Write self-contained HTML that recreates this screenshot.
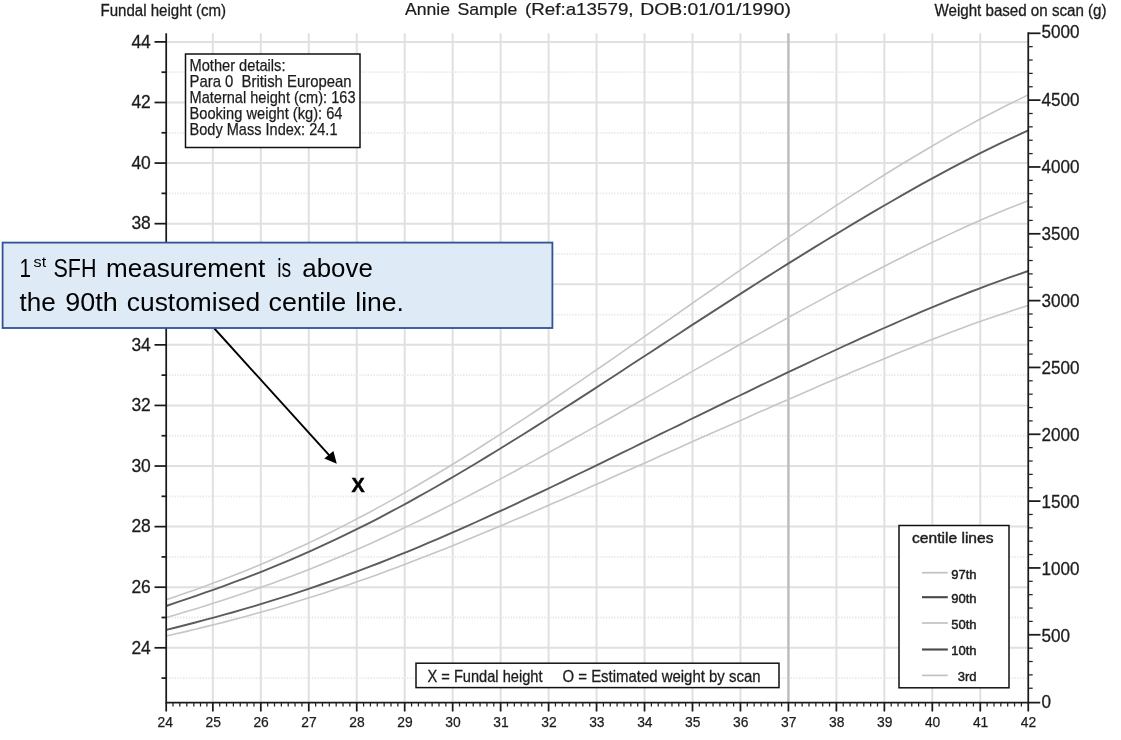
<!DOCTYPE html>
<html lang="en"><head><meta charset="utf-8"><title>Customised growth chart</title>
<style>html,body{margin:0;padding:0;background:#fff;}body{width:1121px;height:740px;overflow:hidden;font-family:"Liberation Sans",sans-serif;}svg{display:block;filter:blur(0.3px);}text{font-family:"Liberation Sans",sans-serif;}</style>
</head><body>
<svg width="1121" height="740" viewBox="0 0 1121 740">
<rect x="0" y="0" width="1121" height="740" fill="#ffffff"/>
<g stroke="#e0e0e0" stroke-width="2" fill="none">
<line x1="212.84" y1="33.20" x2="212.84" y2="702.50"/>
<line x1="260.81" y1="33.20" x2="260.81" y2="702.50"/>
<line x1="308.77" y1="33.20" x2="308.77" y2="702.50"/>
<line x1="356.74" y1="33.20" x2="356.74" y2="702.50"/>
<line x1="404.70" y1="33.20" x2="404.70" y2="702.50"/>
<line x1="452.67" y1="33.20" x2="452.67" y2="702.50"/>
<line x1="500.63" y1="33.20" x2="500.63" y2="702.50"/>
<line x1="548.60" y1="33.20" x2="548.60" y2="702.50"/>
<line x1="596.56" y1="33.20" x2="596.56" y2="702.50"/>
<line x1="644.53" y1="33.20" x2="644.53" y2="702.50"/>
<line x1="692.50" y1="33.20" x2="692.50" y2="702.50"/>
<line x1="740.46" y1="33.20" x2="740.46" y2="702.50"/>
<line x1="836.39" y1="33.20" x2="836.39" y2="702.50"/>
<line x1="884.36" y1="33.20" x2="884.36" y2="702.50"/>
<line x1="932.32" y1="33.20" x2="932.32" y2="702.50"/>
<line x1="980.28" y1="33.20" x2="980.28" y2="702.50"/>
<line x1="166.20" y1="647.80" x2="1028.25" y2="647.80"/>
<line x1="166.20" y1="587.21" x2="1028.25" y2="587.21"/>
<line x1="166.20" y1="526.62" x2="1028.25" y2="526.62"/>
<line x1="166.20" y1="466.03" x2="1028.25" y2="466.03"/>
<line x1="166.20" y1="405.44" x2="1028.25" y2="405.44"/>
<line x1="166.20" y1="344.85" x2="1028.25" y2="344.85"/>
<line x1="166.20" y1="284.26" x2="1028.25" y2="284.26"/>
<line x1="166.20" y1="223.67" x2="1028.25" y2="223.67"/>
<line x1="166.20" y1="163.08" x2="1028.25" y2="163.08"/>
<line x1="166.20" y1="102.49" x2="1028.25" y2="102.49"/>
<line x1="166.20" y1="41.90" x2="1028.25" y2="41.90"/>
</g>
<g stroke="#e8e8e8" stroke-width="1.8" stroke-dasharray="1.4 1.4" fill="none">
<line x1="166.20" y1="678.09" x2="1028.25" y2="678.09"/>
<line x1="166.20" y1="617.50" x2="1028.25" y2="617.50"/>
<line x1="166.20" y1="556.91" x2="1028.25" y2="556.91"/>
<line x1="166.20" y1="496.32" x2="1028.25" y2="496.32"/>
<line x1="166.20" y1="435.73" x2="1028.25" y2="435.73"/>
<line x1="166.20" y1="375.14" x2="1028.25" y2="375.14"/>
<line x1="166.20" y1="314.55" x2="1028.25" y2="314.55"/>
<line x1="166.20" y1="253.96" x2="1028.25" y2="253.96"/>
<line x1="166.20" y1="193.38" x2="1028.25" y2="193.38"/>
<line x1="166.20" y1="132.78" x2="1028.25" y2="132.78"/>
<line x1="166.20" y1="72.19" x2="1028.25" y2="72.19"/>
</g>
<line x1="788.42" y1="33.20" x2="788.42" y2="702.50" stroke="#bbbbbb" stroke-width="2.4"/>
<path d="M166.2 599.7 L175.9 596.4 L185.6 593.1 L195.3 589.7 L204.9 586.2 L214.6 582.6 L224.3 578.9 L234.0 575.2 L243.7 571.4 L253.4 567.4 L263.1 563.4 L272.7 559.2 L282.4 555.0 L292.1 550.6 L301.8 546.2 L311.5 541.6 L321.2 537.0 L330.9 532.2 L340.5 527.4 L350.2 522.4 L359.9 517.3 L369.6 512.2 L379.3 506.9 L389.0 501.6 L398.7 496.1 L408.3 490.6 L418.0 485.0 L427.7 479.3 L437.4 473.5 L447.1 467.7 L456.8 461.7 L466.5 455.7 L476.2 449.7 L485.8 443.5 L495.5 437.3 L505.2 431.1 L514.9 424.7 L524.6 418.4 L534.3 412.0 L544.0 405.5 L553.6 399.0 L563.3 392.5 L573.0 385.9 L582.7 379.3 L592.4 372.6 L602.1 366.0 L611.8 359.3 L621.4 352.6 L631.1 345.9 L640.8 339.2 L650.5 332.4 L660.2 325.7 L669.9 318.9 L679.6 312.2 L689.2 305.5 L698.9 298.7 L708.6 292.0 L718.3 285.3 L728.0 278.6 L737.7 271.9 L747.4 265.2 L757.0 258.6 L766.7 252.0 L776.4 245.4 L786.1 238.9 L795.8 232.4 L805.5 225.9 L815.2 219.4 L824.8 213.1 L834.5 206.7 L844.2 200.4 L853.9 194.2 L863.6 188.0 L873.3 181.8 L883.0 175.8 L892.6 169.8 L902.3 163.8 L912.0 158.0 L921.7 152.2 L931.4 146.5 L941.1 140.9 L950.8 135.3 L960.4 129.9 L970.1 124.6 L979.8 119.3 L989.5 114.2 L999.2 109.2 L1008.9 104.3 L1018.6 99.6 L1028.2 94.9" fill="none" stroke="#c6c6c6" stroke-width="1.6" stroke-linejoin="round"/>
<path d="M166.2 606.0 L175.9 602.7 L185.6 599.4 L195.3 596.1 L204.9 592.7 L214.6 589.3 L224.3 585.8 L234.0 582.2 L243.7 578.6 L253.4 574.9 L263.1 571.1 L272.7 567.2 L282.4 563.2 L292.1 559.1 L301.8 554.9 L311.5 550.6 L321.2 546.2 L330.9 541.7 L340.5 537.1 L350.2 532.4 L359.9 527.6 L369.6 522.8 L379.3 517.8 L389.0 512.7 L398.7 507.5 L408.3 502.3 L418.0 496.9 L427.7 491.5 L437.4 486.0 L447.1 480.4 L456.8 474.8 L466.5 469.0 L476.2 463.3 L485.8 457.4 L495.5 451.5 L505.2 445.5 L514.9 439.5 L524.6 433.5 L534.3 427.4 L544.0 421.2 L553.6 415.0 L563.3 408.8 L573.0 402.6 L582.7 396.4 L592.4 390.1 L602.1 383.8 L611.8 377.5 L621.4 371.2 L631.1 364.8 L640.8 358.5 L650.5 352.2 L660.2 345.9 L669.9 339.5 L679.6 333.2 L689.2 326.9 L698.9 320.6 L708.6 314.4 L718.3 308.1 L728.0 301.9 L737.7 295.6 L747.4 289.4 L757.0 283.3 L766.7 277.1 L776.4 271.0 L786.1 264.9 L795.8 258.9 L805.5 252.9 L815.2 246.9 L824.8 241.0 L834.5 235.1 L844.2 229.2 L853.9 223.4 L863.6 217.6 L873.3 211.9 L883.0 206.3 L892.6 200.7 L902.3 195.1 L912.0 189.7 L921.7 184.2 L931.4 178.9 L941.1 173.6 L950.8 168.4 L960.4 163.3 L970.1 158.3 L979.8 153.4 L989.5 148.6 L999.2 143.8 L1008.9 139.3 L1018.6 134.8 L1028.2 130.4" fill="none" stroke="#5c5c5c" stroke-width="1.9" stroke-linejoin="round"/>
<path d="M166.2 617.6 L175.9 614.7 L185.6 611.8 L195.3 608.9 L204.9 605.9 L214.6 602.8 L224.3 599.7 L234.0 596.5 L243.7 593.3 L253.4 590.0 L263.1 586.6 L272.7 583.2 L282.4 579.6 L292.1 576.0 L301.8 572.3 L311.5 568.5 L321.2 564.6 L330.9 560.6 L340.5 556.6 L350.2 552.4 L359.9 548.2 L369.6 543.9 L379.3 539.5 L389.0 535.1 L398.7 530.5 L408.3 525.9 L418.0 521.3 L427.7 516.5 L437.4 511.7 L447.1 506.8 L456.8 501.9 L466.5 496.9 L476.2 491.8 L485.8 486.7 L495.5 481.6 L505.2 476.4 L514.9 471.2 L524.6 465.9 L534.3 460.6 L544.0 455.2 L553.6 449.9 L563.3 444.5 L573.0 439.0 L582.7 433.6 L592.4 428.1 L602.1 422.7 L611.8 417.2 L621.4 411.7 L631.1 406.2 L640.8 400.7 L650.5 395.1 L660.2 389.6 L669.9 384.1 L679.6 378.6 L689.2 373.1 L698.9 367.6 L708.6 362.1 L718.3 356.6 L728.0 351.2 L737.7 345.7 L747.4 340.3 L757.0 334.9 L766.7 329.5 L776.4 324.1 L786.1 318.7 L795.8 313.4 L805.5 308.1 L815.2 302.9 L824.8 297.6 L834.5 292.4 L844.2 287.3 L853.9 282.1 L863.6 277.0 L873.3 272.0 L883.0 267.0 L892.6 262.0 L902.3 257.2 L912.0 252.3 L921.7 247.5 L931.4 242.8 L941.1 238.2 L950.8 233.6 L960.4 229.2 L970.1 224.8 L979.8 220.5 L989.5 216.3 L999.2 212.2 L1008.9 208.2 L1018.6 204.4 L1028.2 200.7" fill="none" stroke="#c6c6c6" stroke-width="1.6" stroke-linejoin="round"/>
<path d="M166.2 629.9 L175.9 627.5 L185.6 625.0 L195.3 622.5 L204.9 619.9 L214.6 617.3 L224.3 614.7 L234.0 612.0 L243.7 609.2 L253.4 606.3 L263.1 603.4 L272.7 600.4 L282.4 597.4 L292.1 594.3 L301.8 591.1 L311.5 587.8 L321.2 584.5 L330.9 581.1 L340.5 577.6 L350.2 574.0 L359.9 570.4 L369.6 566.7 L379.3 563.0 L389.0 559.1 L398.7 555.2 L408.3 551.3 L418.0 547.3 L427.7 543.2 L437.4 539.1 L447.1 534.9 L456.8 530.6 L466.5 526.3 L476.2 522.0 L485.8 517.6 L495.5 513.2 L505.2 508.8 L514.9 504.3 L524.6 499.7 L534.3 495.2 L544.0 490.6 L553.6 486.0 L563.3 481.4 L573.0 476.7 L582.7 472.0 L592.4 467.3 L602.1 462.6 L611.8 457.9 L621.4 453.2 L631.1 448.5 L640.8 443.7 L650.5 439.0 L660.2 434.2 L669.9 429.5 L679.6 424.8 L689.2 420.0 L698.9 415.3 L708.6 410.6 L718.3 405.9 L728.0 401.1 L737.7 396.5 L747.4 391.8 L757.0 387.1 L766.7 382.5 L776.4 377.8 L786.1 373.2 L795.8 368.6 L805.5 364.1 L815.2 359.5 L824.8 355.0 L834.5 350.5 L844.2 346.0 L853.9 341.6 L863.6 337.2 L873.3 332.9 L883.0 328.5 L892.6 324.3 L902.3 320.0 L912.0 315.9 L921.7 311.7 L931.4 307.6 L941.1 303.6 L950.8 299.7 L960.4 295.8 L970.1 292.0 L979.8 288.3 L989.5 284.6 L999.2 281.1 L1008.9 277.6 L1018.6 274.3 L1028.2 271.0" fill="none" stroke="#5c5c5c" stroke-width="1.9" stroke-linejoin="round"/>
<path d="M166.2 636.0 L175.9 633.8 L185.6 631.6 L195.3 629.3 L204.9 626.9 L214.6 624.5 L224.3 622.1 L234.0 619.6 L243.7 617.0 L253.4 614.3 L263.1 611.6 L272.7 608.9 L282.4 606.0 L292.1 603.1 L301.8 600.1 L311.5 597.1 L321.2 593.9 L330.9 590.8 L340.5 587.5 L350.2 584.2 L359.9 580.8 L369.6 577.4 L379.3 573.9 L389.0 570.3 L398.7 566.7 L408.3 563.1 L418.0 559.3 L427.7 555.6 L437.4 551.8 L447.1 547.9 L456.8 544.0 L466.5 540.1 L476.2 536.1 L485.8 532.1 L495.5 528.0 L505.2 523.9 L514.9 519.8 L524.6 515.7 L534.3 511.5 L544.0 507.3 L553.6 503.1 L563.3 498.9 L573.0 494.7 L582.7 490.4 L592.4 486.1 L602.1 481.9 L611.8 477.6 L621.4 473.3 L631.1 469.0 L640.8 464.7 L650.5 460.4 L660.2 456.1 L669.9 451.7 L679.6 447.4 L689.2 443.1 L698.9 438.8 L708.6 434.5 L718.3 430.2 L728.0 425.9 L737.7 421.7 L747.4 417.4 L757.0 413.1 L766.7 408.9 L776.4 404.6 L786.1 400.4 L795.8 396.2 L805.5 392.0 L815.2 387.8 L824.8 383.6 L834.5 379.5 L844.2 375.4 L853.9 371.3 L863.6 367.2 L873.3 363.2 L883.0 359.2 L892.6 355.2 L902.3 351.3 L912.0 347.4 L921.7 343.5 L931.4 339.7 L941.1 336.0 L950.8 332.3 L960.4 328.7 L970.1 325.1 L979.8 321.6 L989.5 318.2 L999.2 314.9 L1008.9 311.7 L1018.6 308.6 L1028.2 305.6" fill="none" stroke="#c6c6c6" stroke-width="1.6" stroke-linejoin="round"/>
<g stroke="#1a1a1a" stroke-width="1.75" fill="none">
<line x1="166.20" y1="33.20" x2="166.20" y2="703.50"/>
<line x1="1028.25" y1="32.30" x2="1028.25" y2="703.50"/>
<line x1="166.20" y1="702.50" x2="1040.25" y2="702.50"/>
<line x1="154.50" y1="647.80" x2="166.20" y2="647.80"/>
<line x1="154.50" y1="587.21" x2="166.20" y2="587.21"/>
<line x1="154.50" y1="526.62" x2="166.20" y2="526.62"/>
<line x1="154.50" y1="466.03" x2="166.20" y2="466.03"/>
<line x1="154.50" y1="405.44" x2="166.20" y2="405.44"/>
<line x1="154.50" y1="344.85" x2="166.20" y2="344.85"/>
<line x1="154.50" y1="284.26" x2="166.20" y2="284.26"/>
<line x1="154.50" y1="223.67" x2="166.20" y2="223.67"/>
<line x1="154.50" y1="163.08" x2="166.20" y2="163.08"/>
<line x1="154.50" y1="102.49" x2="166.20" y2="102.49"/>
<line x1="154.50" y1="41.90" x2="166.20" y2="41.90"/>
<line x1="161.50" y1="678.09" x2="166.20" y2="678.09"/>
<line x1="161.50" y1="617.50" x2="166.20" y2="617.50"/>
<line x1="161.50" y1="556.91" x2="166.20" y2="556.91"/>
<line x1="161.50" y1="496.32" x2="166.20" y2="496.32"/>
<line x1="161.50" y1="435.73" x2="166.20" y2="435.73"/>
<line x1="161.50" y1="375.14" x2="166.20" y2="375.14"/>
<line x1="161.50" y1="314.55" x2="166.20" y2="314.55"/>
<line x1="161.50" y1="253.96" x2="166.20" y2="253.96"/>
<line x1="161.50" y1="193.38" x2="166.20" y2="193.38"/>
<line x1="161.50" y1="132.78" x2="166.20" y2="132.78"/>
<line x1="161.50" y1="72.19" x2="166.20" y2="72.19"/>
<line x1="166.20" y1="702.50" x2="166.20" y2="711.50"/>
<line x1="212.84" y1="702.50" x2="212.84" y2="711.50"/>
<line x1="260.81" y1="702.50" x2="260.81" y2="711.50"/>
<line x1="308.77" y1="702.50" x2="308.77" y2="711.50"/>
<line x1="356.74" y1="702.50" x2="356.74" y2="711.50"/>
<line x1="404.70" y1="702.50" x2="404.70" y2="711.50"/>
<line x1="452.67" y1="702.50" x2="452.67" y2="711.50"/>
<line x1="500.63" y1="702.50" x2="500.63" y2="711.50"/>
<line x1="548.60" y1="702.50" x2="548.60" y2="711.50"/>
<line x1="596.56" y1="702.50" x2="596.56" y2="711.50"/>
<line x1="644.53" y1="702.50" x2="644.53" y2="711.50"/>
<line x1="692.50" y1="702.50" x2="692.50" y2="711.50"/>
<line x1="740.46" y1="702.50" x2="740.46" y2="711.50"/>
<line x1="788.42" y1="702.50" x2="788.42" y2="711.50"/>
<line x1="836.39" y1="702.50" x2="836.39" y2="711.50"/>
<line x1="884.36" y1="702.50" x2="884.36" y2="711.50"/>
<line x1="932.32" y1="702.50" x2="932.32" y2="711.50"/>
<line x1="980.28" y1="702.50" x2="980.28" y2="711.50"/>
<line x1="1028.25" y1="702.50" x2="1028.25" y2="711.50"/>
</g>
<g stroke="#222" stroke-width="1.25" fill="none">
<line x1="173.00" y1="702.50" x2="173.00" y2="706.50"/>
<line x1="179.80" y1="702.50" x2="179.80" y2="706.50"/>
<line x1="186.80" y1="702.50" x2="186.80" y2="706.50"/>
<line x1="193.80" y1="702.50" x2="193.80" y2="706.50"/>
<line x1="200.50" y1="702.50" x2="200.50" y2="706.50"/>
<line x1="206.90" y1="702.50" x2="206.90" y2="706.50"/>
<line x1="219.70" y1="702.50" x2="219.70" y2="706.50"/>
<line x1="226.55" y1="702.50" x2="226.55" y2="706.50"/>
<line x1="233.40" y1="702.50" x2="233.40" y2="706.50"/>
<line x1="240.25" y1="702.50" x2="240.25" y2="706.50"/>
<line x1="247.11" y1="702.50" x2="247.11" y2="706.50"/>
<line x1="253.96" y1="702.50" x2="253.96" y2="706.50"/>
<line x1="267.66" y1="702.50" x2="267.66" y2="706.50"/>
<line x1="274.51" y1="702.50" x2="274.51" y2="706.50"/>
<line x1="281.37" y1="702.50" x2="281.37" y2="706.50"/>
<line x1="288.22" y1="702.50" x2="288.22" y2="706.50"/>
<line x1="295.07" y1="702.50" x2="295.07" y2="706.50"/>
<line x1="301.92" y1="702.50" x2="301.92" y2="706.50"/>
<line x1="315.63" y1="702.50" x2="315.63" y2="706.50"/>
<line x1="322.48" y1="702.50" x2="322.48" y2="706.50"/>
<line x1="329.33" y1="702.50" x2="329.33" y2="706.50"/>
<line x1="336.18" y1="702.50" x2="336.18" y2="706.50"/>
<line x1="343.04" y1="702.50" x2="343.04" y2="706.50"/>
<line x1="349.89" y1="702.50" x2="349.89" y2="706.50"/>
<line x1="363.59" y1="702.50" x2="363.59" y2="706.50"/>
<line x1="370.44" y1="702.50" x2="370.44" y2="706.50"/>
<line x1="377.30" y1="702.50" x2="377.30" y2="706.50"/>
<line x1="384.15" y1="702.50" x2="384.15" y2="706.50"/>
<line x1="391.00" y1="702.50" x2="391.00" y2="706.50"/>
<line x1="397.85" y1="702.50" x2="397.85" y2="706.50"/>
<line x1="411.56" y1="702.50" x2="411.56" y2="706.50"/>
<line x1="418.41" y1="702.50" x2="418.41" y2="706.50"/>
<line x1="425.26" y1="702.50" x2="425.26" y2="706.50"/>
<line x1="432.11" y1="702.50" x2="432.11" y2="706.50"/>
<line x1="438.97" y1="702.50" x2="438.97" y2="706.50"/>
<line x1="445.82" y1="702.50" x2="445.82" y2="706.50"/>
<line x1="459.52" y1="702.50" x2="459.52" y2="706.50"/>
<line x1="466.37" y1="702.50" x2="466.37" y2="706.50"/>
<line x1="473.23" y1="702.50" x2="473.23" y2="706.50"/>
<line x1="480.08" y1="702.50" x2="480.08" y2="706.50"/>
<line x1="486.93" y1="702.50" x2="486.93" y2="706.50"/>
<line x1="493.78" y1="702.50" x2="493.78" y2="706.50"/>
<line x1="507.49" y1="702.50" x2="507.49" y2="706.50"/>
<line x1="514.34" y1="702.50" x2="514.34" y2="706.50"/>
<line x1="521.19" y1="702.50" x2="521.19" y2="706.50"/>
<line x1="528.04" y1="702.50" x2="528.04" y2="706.50"/>
<line x1="534.90" y1="702.50" x2="534.90" y2="706.50"/>
<line x1="541.75" y1="702.50" x2="541.75" y2="706.50"/>
<line x1="555.45" y1="702.50" x2="555.45" y2="706.50"/>
<line x1="562.30" y1="702.50" x2="562.30" y2="706.50"/>
<line x1="569.16" y1="702.50" x2="569.16" y2="706.50"/>
<line x1="576.01" y1="702.50" x2="576.01" y2="706.50"/>
<line x1="582.86" y1="702.50" x2="582.86" y2="706.50"/>
<line x1="589.71" y1="702.50" x2="589.71" y2="706.50"/>
<line x1="603.42" y1="702.50" x2="603.42" y2="706.50"/>
<line x1="610.27" y1="702.50" x2="610.27" y2="706.50"/>
<line x1="617.12" y1="702.50" x2="617.12" y2="706.50"/>
<line x1="623.97" y1="702.50" x2="623.97" y2="706.50"/>
<line x1="630.83" y1="702.50" x2="630.83" y2="706.50"/>
<line x1="637.68" y1="702.50" x2="637.68" y2="706.50"/>
<line x1="651.38" y1="702.50" x2="651.38" y2="706.50"/>
<line x1="658.23" y1="702.50" x2="658.23" y2="706.50"/>
<line x1="665.09" y1="702.50" x2="665.09" y2="706.50"/>
<line x1="671.94" y1="702.50" x2="671.94" y2="706.50"/>
<line x1="678.79" y1="702.50" x2="678.79" y2="706.50"/>
<line x1="685.64" y1="702.50" x2="685.64" y2="706.50"/>
<line x1="699.35" y1="702.50" x2="699.35" y2="706.50"/>
<line x1="706.20" y1="702.50" x2="706.20" y2="706.50"/>
<line x1="713.05" y1="702.50" x2="713.05" y2="706.50"/>
<line x1="719.90" y1="702.50" x2="719.90" y2="706.50"/>
<line x1="726.76" y1="702.50" x2="726.76" y2="706.50"/>
<line x1="733.61" y1="702.50" x2="733.61" y2="706.50"/>
<line x1="747.31" y1="702.50" x2="747.31" y2="706.50"/>
<line x1="754.16" y1="702.50" x2="754.16" y2="706.50"/>
<line x1="761.02" y1="702.50" x2="761.02" y2="706.50"/>
<line x1="767.87" y1="702.50" x2="767.87" y2="706.50"/>
<line x1="774.72" y1="702.50" x2="774.72" y2="706.50"/>
<line x1="781.57" y1="702.50" x2="781.57" y2="706.50"/>
<line x1="795.28" y1="702.50" x2="795.28" y2="706.50"/>
<line x1="802.13" y1="702.50" x2="802.13" y2="706.50"/>
<line x1="808.98" y1="702.50" x2="808.98" y2="706.50"/>
<line x1="815.83" y1="702.50" x2="815.83" y2="706.50"/>
<line x1="822.69" y1="702.50" x2="822.69" y2="706.50"/>
<line x1="829.54" y1="702.50" x2="829.54" y2="706.50"/>
<line x1="843.24" y1="702.50" x2="843.24" y2="706.50"/>
<line x1="850.09" y1="702.50" x2="850.09" y2="706.50"/>
<line x1="856.95" y1="702.50" x2="856.95" y2="706.50"/>
<line x1="863.80" y1="702.50" x2="863.80" y2="706.50"/>
<line x1="870.65" y1="702.50" x2="870.65" y2="706.50"/>
<line x1="877.50" y1="702.50" x2="877.50" y2="706.50"/>
<line x1="891.21" y1="702.50" x2="891.21" y2="706.50"/>
<line x1="898.06" y1="702.50" x2="898.06" y2="706.50"/>
<line x1="904.91" y1="702.50" x2="904.91" y2="706.50"/>
<line x1="911.76" y1="702.50" x2="911.76" y2="706.50"/>
<line x1="918.62" y1="702.50" x2="918.62" y2="706.50"/>
<line x1="925.47" y1="702.50" x2="925.47" y2="706.50"/>
<line x1="939.17" y1="702.50" x2="939.17" y2="706.50"/>
<line x1="946.02" y1="702.50" x2="946.02" y2="706.50"/>
<line x1="952.88" y1="702.50" x2="952.88" y2="706.50"/>
<line x1="959.73" y1="702.50" x2="959.73" y2="706.50"/>
<line x1="966.58" y1="702.50" x2="966.58" y2="706.50"/>
<line x1="973.43" y1="702.50" x2="973.43" y2="706.50"/>
<line x1="987.14" y1="702.50" x2="987.14" y2="706.50"/>
<line x1="993.99" y1="702.50" x2="993.99" y2="706.50"/>
<line x1="1000.84" y1="702.50" x2="1000.84" y2="706.50"/>
<line x1="1007.69" y1="702.50" x2="1007.69" y2="706.50"/>
<line x1="1014.55" y1="702.50" x2="1014.55" y2="706.50"/>
<line x1="1021.40" y1="702.50" x2="1021.40" y2="706.50"/>
</g>
<g stroke="#1a1a1a" stroke-width="1.75" fill="none">
<line x1="1028.25" y1="634.77" x2="1040.50" y2="634.77"/>
<line x1="1028.25" y1="567.94" x2="1040.50" y2="567.94"/>
<line x1="1028.25" y1="501.11" x2="1040.50" y2="501.11"/>
<line x1="1028.25" y1="434.28" x2="1040.50" y2="434.28"/>
<line x1="1028.25" y1="367.45" x2="1040.50" y2="367.45"/>
<line x1="1028.25" y1="300.62" x2="1040.50" y2="300.62"/>
<line x1="1028.25" y1="233.79" x2="1040.50" y2="233.79"/>
<line x1="1028.25" y1="166.96" x2="1040.50" y2="166.96"/>
<line x1="1028.25" y1="100.13" x2="1040.50" y2="100.13"/>
<line x1="1028.25" y1="33.30" x2="1040.50" y2="33.30"/>
</g>
<g stroke="#222" stroke-width="1.25" fill="none">
<line x1="1028.25" y1="688.23" x2="1032.70" y2="688.23"/>
<line x1="1028.25" y1="674.87" x2="1032.70" y2="674.87"/>
<line x1="1028.25" y1="661.50" x2="1032.70" y2="661.50"/>
<line x1="1028.25" y1="648.14" x2="1032.70" y2="648.14"/>
<line x1="1028.25" y1="621.40" x2="1032.70" y2="621.40"/>
<line x1="1028.25" y1="608.04" x2="1032.70" y2="608.04"/>
<line x1="1028.25" y1="594.67" x2="1032.70" y2="594.67"/>
<line x1="1028.25" y1="581.31" x2="1032.70" y2="581.31"/>
<line x1="1028.25" y1="554.57" x2="1032.70" y2="554.57"/>
<line x1="1028.25" y1="541.21" x2="1032.70" y2="541.21"/>
<line x1="1028.25" y1="527.84" x2="1032.70" y2="527.84"/>
<line x1="1028.25" y1="514.48" x2="1032.70" y2="514.48"/>
<line x1="1028.25" y1="487.74" x2="1032.70" y2="487.74"/>
<line x1="1028.25" y1="474.38" x2="1032.70" y2="474.38"/>
<line x1="1028.25" y1="461.01" x2="1032.70" y2="461.01"/>
<line x1="1028.25" y1="447.65" x2="1032.70" y2="447.65"/>
<line x1="1028.25" y1="420.91" x2="1032.70" y2="420.91"/>
<line x1="1028.25" y1="407.55" x2="1032.70" y2="407.55"/>
<line x1="1028.25" y1="394.18" x2="1032.70" y2="394.18"/>
<line x1="1028.25" y1="380.82" x2="1032.70" y2="380.82"/>
<line x1="1028.25" y1="354.08" x2="1032.70" y2="354.08"/>
<line x1="1028.25" y1="340.72" x2="1032.70" y2="340.72"/>
<line x1="1028.25" y1="327.35" x2="1032.70" y2="327.35"/>
<line x1="1028.25" y1="313.99" x2="1032.70" y2="313.99"/>
<line x1="1028.25" y1="287.25" x2="1032.70" y2="287.25"/>
<line x1="1028.25" y1="273.89" x2="1032.70" y2="273.89"/>
<line x1="1028.25" y1="260.52" x2="1032.70" y2="260.52"/>
<line x1="1028.25" y1="247.16" x2="1032.70" y2="247.16"/>
<line x1="1028.25" y1="220.42" x2="1032.70" y2="220.42"/>
<line x1="1028.25" y1="207.06" x2="1032.70" y2="207.06"/>
<line x1="1028.25" y1="193.69" x2="1032.70" y2="193.69"/>
<line x1="1028.25" y1="180.33" x2="1032.70" y2="180.33"/>
<line x1="1028.25" y1="153.59" x2="1032.70" y2="153.59"/>
<line x1="1028.25" y1="140.23" x2="1032.70" y2="140.23"/>
<line x1="1028.25" y1="126.86" x2="1032.70" y2="126.86"/>
<line x1="1028.25" y1="113.50" x2="1032.70" y2="113.50"/>
<line x1="1028.25" y1="86.76" x2="1032.70" y2="86.76"/>
<line x1="1028.25" y1="73.40" x2="1032.70" y2="73.40"/>
<line x1="1028.25" y1="60.03" x2="1032.70" y2="60.03"/>
<line x1="1028.25" y1="46.67" x2="1032.70" y2="46.67"/>
</g>
<g fill="#1c1c1c" font-size="18.5px" stroke="#1c1c1c" stroke-width="0.3">
<text x="150.8" y="653.50" text-anchor="end" textLength="19.4" lengthAdjust="spacingAndGlyphs">24</text>
<text x="150.8" y="592.91" text-anchor="end" textLength="19.4" lengthAdjust="spacingAndGlyphs">26</text>
<text x="150.8" y="532.32" text-anchor="end" textLength="19.4" lengthAdjust="spacingAndGlyphs">28</text>
<text x="150.8" y="471.73" text-anchor="end" textLength="19.4" lengthAdjust="spacingAndGlyphs">30</text>
<text x="150.8" y="411.14" text-anchor="end" textLength="19.4" lengthAdjust="spacingAndGlyphs">32</text>
<text x="150.8" y="350.55" text-anchor="end" textLength="19.4" lengthAdjust="spacingAndGlyphs">34</text>
<text x="150.8" y="289.96" text-anchor="end" textLength="19.4" lengthAdjust="spacingAndGlyphs">36</text>
<text x="150.8" y="229.37" text-anchor="end" textLength="19.4" lengthAdjust="spacingAndGlyphs">38</text>
<text x="150.8" y="168.78" text-anchor="end" textLength="19.4" lengthAdjust="spacingAndGlyphs">40</text>
<text x="150.8" y="108.19" text-anchor="end" textLength="19.4" lengthAdjust="spacingAndGlyphs">42</text>
<text x="150.8" y="47.60" text-anchor="end" textLength="19.4" lengthAdjust="spacingAndGlyphs">44</text>
<text x="1041.6" y="707.60" textLength="9.5" lengthAdjust="spacingAndGlyphs">0</text>
<text x="1041.6" y="641.67" textLength="28.5" lengthAdjust="spacingAndGlyphs">500</text>
<text x="1041.6" y="574.74" textLength="38.0" lengthAdjust="spacingAndGlyphs">1000</text>
<text x="1041.6" y="507.81" textLength="38.0" lengthAdjust="spacingAndGlyphs">1500</text>
<text x="1041.6" y="440.88" textLength="38.0" lengthAdjust="spacingAndGlyphs">2000</text>
<text x="1041.6" y="373.95" textLength="38.0" lengthAdjust="spacingAndGlyphs">2500</text>
<text x="1041.6" y="307.02" textLength="38.0" lengthAdjust="spacingAndGlyphs">3000</text>
<text x="1041.6" y="240.09" textLength="38.0" lengthAdjust="spacingAndGlyphs">3500</text>
<text x="1041.6" y="173.16" textLength="38.0" lengthAdjust="spacingAndGlyphs">4000</text>
<text x="1041.6" y="106.23" textLength="38.0" lengthAdjust="spacingAndGlyphs">4500</text>
<text x="1041.6" y="38.20" textLength="38.0" lengthAdjust="spacingAndGlyphs">5000</text>
</g>
<g fill="#1c1c1c" font-size="15px" text-anchor="middle" stroke="#1c1c1c" stroke-width="0.25">
<text x="165.18" y="727" textLength="15.4" lengthAdjust="spacingAndGlyphs">24</text>
<text x="213.14" y="727" textLength="15.4" lengthAdjust="spacingAndGlyphs">25</text>
<text x="261.11" y="727" textLength="15.4" lengthAdjust="spacingAndGlyphs">26</text>
<text x="309.07" y="727" textLength="15.4" lengthAdjust="spacingAndGlyphs">27</text>
<text x="357.04" y="727" textLength="15.4" lengthAdjust="spacingAndGlyphs">28</text>
<text x="405.00" y="727" textLength="15.4" lengthAdjust="spacingAndGlyphs">29</text>
<text x="452.97" y="727" textLength="15.4" lengthAdjust="spacingAndGlyphs">30</text>
<text x="500.94" y="727" textLength="15.4" lengthAdjust="spacingAndGlyphs">31</text>
<text x="548.90" y="727" textLength="15.4" lengthAdjust="spacingAndGlyphs">32</text>
<text x="596.86" y="727" textLength="15.4" lengthAdjust="spacingAndGlyphs">33</text>
<text x="644.83" y="727" textLength="15.4" lengthAdjust="spacingAndGlyphs">34</text>
<text x="692.79" y="727" textLength="15.4" lengthAdjust="spacingAndGlyphs">35</text>
<text x="740.76" y="727" textLength="15.4" lengthAdjust="spacingAndGlyphs">36</text>
<text x="788.72" y="727" textLength="15.4" lengthAdjust="spacingAndGlyphs">37</text>
<text x="836.69" y="727" textLength="15.4" lengthAdjust="spacingAndGlyphs">38</text>
<text x="884.65" y="727" textLength="15.4" lengthAdjust="spacingAndGlyphs">39</text>
<text x="932.62" y="727" textLength="15.4" lengthAdjust="spacingAndGlyphs">40</text>
<text x="980.58" y="727" textLength="15.4" lengthAdjust="spacingAndGlyphs">41</text>
<text x="1028.55" y="727" textLength="15.4" lengthAdjust="spacingAndGlyphs">42</text>
</g>
<text x="100.5" y="16.3" font-size="16px" fill="#1c1c1c" stroke="#1c1c1c" stroke-width="0.3" textLength="125.5" lengthAdjust="spacingAndGlyphs">Fundal height (cm)</text>
<text x="934.5" y="16.3" font-size="16px" fill="#1c1c1c" stroke="#1c1c1c" stroke-width="0.3" textLength="172" lengthAdjust="spacingAndGlyphs">Weight based on scan (g)</text>
<g font-size="16.2px" fill="#1c1c1c" stroke="#1c1c1c" stroke-width="0.2">
<text x="405.0" y="14.5" textLength="45.0" lengthAdjust="spacingAndGlyphs">Annie</text>
<text x="457.4" y="14.5" textLength="60.0" lengthAdjust="spacingAndGlyphs">Sample</text>
<text x="524.9" y="14.5" textLength="108.7" lengthAdjust="spacingAndGlyphs">(Ref:a13579,</text>
<text x="640.3" y="14.5" textLength="150.6" lengthAdjust="spacingAndGlyphs">DOB:01/01/1990)</text>
</g>
<rect x="185.5" y="54" width="174.5" height="93.5" fill="#fff" stroke="#111" stroke-width="1.5"/>
<g fill="#1c1c1c" font-size="17px" stroke="#1c1c1c" stroke-width="0.25">
<text x="189.5" y="71.4" textLength="96" lengthAdjust="spacingAndGlyphs">Mother details:</text>
<text x="189.5" y="87.4" textLength="162" lengthAdjust="spacingAndGlyphs">Para 0&#160; British European</text>
<text x="189.5" y="103.4" textLength="166" lengthAdjust="spacingAndGlyphs">Maternal height (cm): 163</text>
<text x="189.5" y="119.4" textLength="153" lengthAdjust="spacingAndGlyphs">Booking weight (kg): 64</text>
<text x="189.5" y="135.4" textLength="148" lengthAdjust="spacingAndGlyphs">Body Mass Index: 24.1</text>
</g>
<rect x="416" y="663.2" width="363" height="24.4" fill="#fff" stroke="#111" stroke-width="1.5"/>
<g fill="#1c1c1c" font-size="16.5px" stroke="#1c1c1c" stroke-width="0.3">
<text x="427.5" y="681.6" textLength="115" lengthAdjust="spacingAndGlyphs">X = Fundal height</text>
<text x="562.5" y="681.6" textLength="198" lengthAdjust="spacingAndGlyphs">O = Estimated weight by scan</text>
</g>
<rect x="899" y="525.5" width="110" height="162.3" fill="#fff" stroke="#111" stroke-width="1.5"/>
<text x="912" y="542.8" font-size="15.5px" fill="#1c1c1c" stroke="#1c1c1c" stroke-width="0.45" textLength="81.5" lengthAdjust="spacingAndGlyphs">centile lines</text>
<line x1="922" y1="572.7" x2="947.8" y2="572.7" stroke="#c2c2c2" stroke-width="1.7"/>
<text x="976.5" y="578.6" text-anchor="end" font-size="13px" fill="#1c1c1c" stroke="#1c1c1c" stroke-width="0.45">97th</text>
<line x1="922" y1="597.2" x2="947.8" y2="597.2" stroke="#484848" stroke-width="2.1"/>
<text x="976.5" y="603.1" text-anchor="end" font-size="13px" fill="#1c1c1c" stroke="#1c1c1c" stroke-width="0.45">90th</text>
<line x1="922" y1="623.0" x2="947.8" y2="623.0" stroke="#c2c2c2" stroke-width="1.7"/>
<text x="976.5" y="628.9" text-anchor="end" font-size="13px" fill="#1c1c1c" stroke="#1c1c1c" stroke-width="0.45">50th</text>
<line x1="922" y1="649.5" x2="947.8" y2="649.5" stroke="#484848" stroke-width="2.1"/>
<text x="976.5" y="655.4" text-anchor="end" font-size="13px" fill="#1c1c1c" stroke="#1c1c1c" stroke-width="0.45">10th</text>
<line x1="922" y1="675.4" x2="947.8" y2="675.4" stroke="#c2c2c2" stroke-width="1.7"/>
<text x="976.5" y="681.3" text-anchor="end" font-size="13px" fill="#1c1c1c" stroke="#1c1c1c" stroke-width="0.45">3rd</text>
<line x1="214.4" y1="328.5" x2="330" y2="456.2" stroke="#000" stroke-width="1.9"/>
<path d="M336.8 463.7 L324.3 458.5 L333.4 450.9 Z" fill="#000"/>
<text x="358.2" y="492" text-anchor="middle" font-size="20.8px" font-weight="bold" fill="#000" stroke="#000" stroke-width="0.5" textLength="13.2" lengthAdjust="spacingAndGlyphs">X</text>
<rect x="2.6" y="242.6" width="549.8" height="85.4" fill="#deeaf6" stroke="#2f5496" stroke-width="1.8"/>
<g fill="#000" font-size="25.5px">
<text x="19.5" y="277" textLength="11.5" lengthAdjust="spacingAndGlyphs">1</text>
<text x="53.5" y="277" textLength="43.0" lengthAdjust="spacingAndGlyphs">SFH</text>
<text x="106.0" y="277" textLength="159.2" lengthAdjust="spacingAndGlyphs">measurement</text>
<text x="277.3" y="277" textLength="13.9" lengthAdjust="spacingAndGlyphs">is</text>
<text x="302.3" y="277" textLength="70.5" lengthAdjust="spacingAndGlyphs">above</text>
<text x="33.6" y="267.2" font-size="15.5px" textLength="12.6" lengthAdjust="spacingAndGlyphs">st</text>
<text x="19.5" y="311" textLength="36.2" lengthAdjust="spacingAndGlyphs">the</text>
<text x="65.3" y="311" textLength="52.4" lengthAdjust="spacingAndGlyphs">90th</text>
<text x="126.8" y="311" textLength="133.4" lengthAdjust="spacingAndGlyphs">customised</text>
<text x="268.6" y="311" textLength="77.6" lengthAdjust="spacingAndGlyphs">centile</text>
<text x="355.3" y="311" textLength="48.6" lengthAdjust="spacingAndGlyphs">line.</text>
</g>
</svg>
</body></html>
